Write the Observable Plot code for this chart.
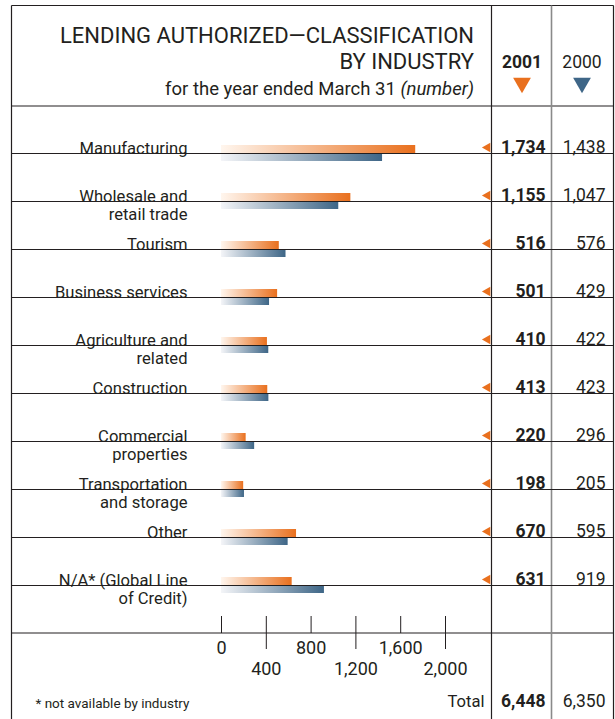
<!DOCTYPE html>
<html>
<head>
<meta charset="utf-8">
<script src="https://cdn.jsdelivr.net/npm/d3@7"></script>
<script src="https://cdn.jsdelivr.net/npm/@observablehq/plot@0.6"></script>
<style>
  html, body { margin: 0; padding: 0; background: #fff; }
  #wrap { position: relative; width: 615px; height: 719px; overflow: hidden;
          font-family: Roboto, "Liberation Sans", sans-serif; color: #231f20; }
  #chart { position: absolute; left: 0; top: 0; }
  .title { position: absolute; right: 141px; top: 23px; text-align: right; white-space: nowrap;
           font-size: 22px; line-height: 26px; }
  .subtitle { position: absolute; right: 141px; top: 79px; text-align: right; white-space: nowrap;
              font-size: 18.5px; line-height: 20px; }
  .subtitle i { font-style: italic; }
</style>
</head>
<body>
<div id="wrap">
  <div id="chart"></div>
  <div class="title">LENDING AUTHORIZED—CLASSIFICATION<br>BY INDUSTRY</div>
  <div class="subtitle">for the year ended March 31 <i>(number)</i></div>
</div>
<script>
// ---------- data ----------
const categories = [
  "Manufacturing", "Wholesale and retail trade", "Tourism", "Business services",
  "Agriculture and related", "Construction", "Commercial properties",
  "Transportation and storage", "Other", "N/A* (Global Line of Credit)"
];
const categoryLabels = [
  "Manufacturing", "Wholesale and\nretail trade", "Tourism", "Business services",
  "Agriculture and\nrelated", "Construction", "Commercial\nproperties",
  "Transportation\nand storage", "Other", "N/A* (Global Line\nof Credit)"
];
const values2001 = [1734, 1155, 516, 501, 410, 413, 220, 198, 670, 631];
const values2000 = [1438, 1047, 576, 429, 422, 423, 296, 205, 595, 919];
const years = ["2001", "2000"];
const xTicks = [0, 400, 800, 1200, 1600, 2000];
const total2001 = 6448;
const total2000 = 6350;
const totalLabel = "Total";
const footnote = "* not available by industry";

// ---------- style ----------
const FONT = 'Roboto, "Liberation Sans", sans-serif';
const INK = "#231f20";
const ORANGE = "#E9701E";
const BLUE = "#3E6687";
const fmt = d3.format(",");

const rows = categories.map((c, i) => ({
  cat: c, label: categoryLabels[i], v2001: values2001[i], v2000: values2000[i]
}));

// layout (pixels)
const W = 615, H = 719;
const LEFT = 11.5, RIGHT = 613.5, TOP = 5.5, HEAD = 106, AXIS = 633;
const COL_A = 491.5, COL_B = 551.5;
const NUM_SIZE = 17.5, LABEL_SIZE = 16.6, AXIS_SIZE = 18;

const defs = () => {
  const d = d3.create("svg:defs");
  const go = d.append("linearGradient").attr("id", "gradO");
  go.append("stop").attr("offset", "0%").attr("stop-color", "#fff6ee");
  go.append("stop").attr("offset", "100%").attr("stop-color", ORANGE);
  const gb = d.append("linearGradient").attr("id", "gradB");
  gb.append("stop").attr("offset", "0%").attr("stop-color", "#f4f5f8");
  gb.append("stop").attr("offset", "100%").attr("stop-color", BLUE);
  return d.node();
};

const frame = () => {
  const g = d3.create("svg:g").attr("fill", "none");
  const seg = (x1, y1, x2, y2, color, w) =>
    g.append("line").attr("x1", x1).attr("y1", y1).attr("x2", x2).attr("y2", y2)
      .attr("stroke", color).attr("stroke-width", w);
  seg(LEFT, TOP, RIGHT, TOP, INK, 1.2);
  seg(LEFT, TOP, LEFT, H, INK, 1.2);
  seg(RIGHT, TOP, RIGHT, H, INK, 1.2);
  seg(LEFT, HEAD, RIGHT, HEAD, INK, 1.2);
  seg(LEFT, AXIS, RIGHT, AXIS, INK, 1.2);
  seg(COL_A, TOP, COL_A, H, INK, 1.2);
  seg(COL_B, TOP, COL_B, H, "#8a8a8a", 1.6);
  return g.node();
};

const chart = Plot.plot({
  width: W,
  height: H,
  marginTop: 0, marginLeft: 0, marginRight: 0, marginBottom: H - AXIS,
  style: { fontFamily: FONT, fontSize: "16px", color: INK, background: "transparent", overflow: "visible" },
  x: { domain: [0, 2000], range: [221, 445], axis: null },
  y: { type: "band", domain: categories, range: [129, 609], padding: 0, axis: null },
  marks: [
    defs,
    Plot.barX(rows, { x: "v2001", y: "cat", fill: "url(#gradO)", insetTop: 16, insetBottom: 24 }),
    Plot.barX(rows, { x: "v2000", y: "cat", fill: "url(#gradB)", insetTop: 24, insetBottom: 16 }),
    frame,
    Plot.ruleY(rows, { y: "cat", stroke: INK, strokeWidth: 1.2, insetLeft: LEFT, insetRight: W - RIGHT }),
    Plot.text(rows, { y: "cat", text: "label", frameAnchor: "left", dx: 187, textAnchor: "end",
      lineAnchor: "top", dy: -12.8, lineHeight: 1.09, fontSize: LABEL_SIZE, fill: INK }),
    Plot.dot(rows, { y: "cat", frameAnchor: "left", dx: 487, dy: -6, symbol: "triangle",
      rotate: -90, r: 3.6, fill: ORANGE, stroke: null }),
    Plot.text(rows, { y: "cat", text: d => fmt(d.v2001), frameAnchor: "left", dx: 545, dy: -6,
      textAnchor: "end", lineAnchor: "middle", fontWeight: "bold", fontSize: NUM_SIZE, fill: INK }),
    Plot.text(rows, { y: "cat", text: d => fmt(d.v2000), frameAnchor: "left", dx: 605, dy: -6,
      textAnchor: "end", lineAnchor: "middle", fontSize: NUM_SIZE, fill: INK }),
    // x axis
    Plot.axisX(xTicks, { anchor: "bottom", tickSize: -17, text: null, stroke: INK }),
    Plot.axisX(xTicks.filter((d, i) => i % 2 === 1), { anchor: "bottom", tickSize: 16, text: null, stroke: INK }),
    Plot.axisX(xTicks.filter((d, i) => i % 2 === 0), { anchor: "bottom", tickSize: 0, tickPadding: 8,
      tickFormat: d => fmt(d), fontSize: AXIS_SIZE, fill: INK }),
    Plot.axisX(xTicks.filter((d, i) => i % 2 === 1), { anchor: "bottom", tickSize: 0, tickPadding: 29,
      tickFormat: d => fmt(d), fontSize: AXIS_SIZE, fill: INK }),
    // column headers
    Plot.text([years[0]], { text: d => d, frameAnchor: "top-left", dx: 521.5, dy: 62,
      textAnchor: "middle", lineAnchor: "middle", fontWeight: "bold", fontSize: 17.5, fill: INK }),
    Plot.text([years[1]], { text: d => d, frameAnchor: "top-left", dx: 581.5, dy: 62,
      textAnchor: "middle", lineAnchor: "middle", fontSize: 17.5, fill: INK }),
    Plot.dot([years[0]], { frameAnchor: "top-left", dx: 521.5, dy: 82.5, symbol: "triangle",
      rotate: 180, r: 6.6, fill: ORANGE, stroke: null }),
    Plot.dot([years[1]], { frameAnchor: "top-left", dx: 581.5, dy: 82.5, symbol: "triangle",
      rotate: 180, r: 6.6, fill: BLUE, stroke: null }),
    // totals
    Plot.text([totalLabel], { text: d => d, frameAnchor: "top-left", dx: 484, dy: 701,
      textAnchor: "end", lineAnchor: "middle", fontSize: LABEL_SIZE, fill: INK }),
    Plot.text([total2001], { text: d => fmt(d), frameAnchor: "top-left", dx: 545, dy: 701,
      textAnchor: "end", lineAnchor: "middle", fontWeight: "bold", fontSize: NUM_SIZE, fill: INK }),
    Plot.text([total2000], { text: d => fmt(d), frameAnchor: "top-left", dx: 605, dy: 701,
      textAnchor: "end", lineAnchor: "middle", fontSize: NUM_SIZE, fill: INK }),
    Plot.text([footnote], { text: d => d, frameAnchor: "top-left", dx: 35, dy: 703,
      textAnchor: "start", lineAnchor: "middle", fontSize: 13.5, fill: INK })
  ]
});
document.getElementById("chart").appendChild(chart);
</script>
</body>
</html>
